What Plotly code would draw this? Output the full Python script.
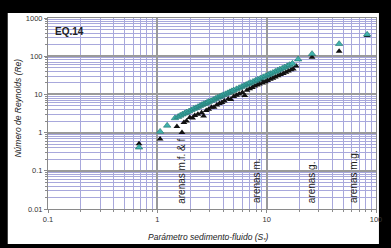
import math
import plotly.graph_objects as go

# Teal series (S*, Re)
teal_s = [0.68, 1.06, 1.23, 1.45, 1.55, 1.62, 1.70, 1.78, 1.85, 1.95, 2.05, 2.15, 2.25, 2.35,
          2.45, 2.55, 2.65, 2.75, 2.85, 2.95, 3.1, 3.25, 3.4, 3.55, 3.7, 3.85, 4.0, 4.2, 4.4,
          4.6, 4.8, 5.0, 5.3, 5.6, 5.9, 6.2, 6.5, 6.8, 7.1, 7.5, 7.9, 8.3, 8.8, 9.3, 9.8, 10.3,
          10.8, 11.4, 12.0, 12.6, 13.2, 13.9, 14.6, 15.4, 16.2, 17.2, 19.4, 26, 46, 83]
teal_re = [0.41, 1.06, 1.53, 2.4, 2.6, 2.8, 3.0, 3.2, 3.4, 3.6, 3.9, 4.2, 4.4, 4.7,
           5.0, 5.3, 5.6, 5.8, 6.1, 6.4, 6.8, 7.2, 7.7, 8.2, 8.6, 9.1, 9.6, 10.2, 10.8,
           11.5, 12.2, 12.8, 13.8, 14.8, 15.8, 16.9, 17.9, 19.0, 20, 21.5, 23, 24.5, 26.5, 28.5, 30.5, 32.5,
           34.5, 37, 39.5, 42, 45, 48, 51, 55, 59, 64, 83, 115, 210, 370]

# Black series (S*, Re)
black_s = [0.68, 1.06, 1.51, 1.68, 1.75, 1.85, 1.98, 2.1, 2.2, 2.35, 2.54, 2.65, 2.8, 2.95,
           3.13, 3.3, 3.5, 3.7, 3.9, 4.1, 4.45, 4.7, 5.0, 5.3, 5.6, 6.0, 6.3, 6.6, 7.0, 7.4,
           7.8, 8.2, 8.6, 9.0, 9.2, 9.7, 10.2, 10.8, 11.4, 12.0, 12.7, 13.4, 14.2, 15.0, 15.8,
           16.7, 17.5, 18.6, 26, 46, 83]
black_re = [0.51, 0.68, 1.44, 1.0, 1.85, 2.0, 2.5, 2.4, 2.8, 3.0, 3.3, 2.7, 3.8, 4.1,
            4.6, 4.6, 5.3, 5.8, 6.1, 6.7, 7.6, 7.4, 8.8, 9.5, 10.2, 11.2, 9.4, 12.8, 14.0, 15.2,
            16.5, 17.5, 18.8, 24, 20, 21.5, 23, 25, 26.5, 28.5, 31, 33, 35.5, 38, 41,
            44, 46, 55, 94, 135, 350]

zones = ["arenas m.f. & f", "arenas m.", "arenas g.", "arenas m.g."]
zone_x = [1.68, 8.1, 25.4, 62]

x_ticks = [0.1, 1, 10, 100]
y_ticks = [0.01, 0.1, 1, 10, 100, 1000]

fig = go.Figure()
fig.add_trace(go.Scatter(x=black_s, y=black_re, mode="markers",
                         marker=dict(symbol="triangle-up", size=6, color="#111111",
                                     line=dict(width=0)), showlegend=False))
fig.add_trace(go.Scatter(x=teal_s, y=teal_re, mode="markers",
                         marker=dict(symbol="triangle-up", size=6.5, color="#3fb3ad",
                                     line=dict(width=0.6, color="#1f6f6a")), showlegend=False))

for t, xv in zip(zones, zone_x):
    fig.add_annotation(x=math.log10(xv), y=math.log10(0.0125), text=t, textangle=-90,
                       showarrow=False, xanchor="center", yanchor="bottom",
                       font=dict(family="Liberation Sans, Arial", size=10, color="#222222"))

fig.add_annotation(x=0.015, y=0.97, xref="paper", yref="paper", text="<b>EQ.14</b>",
                   showarrow=False, xanchor="left", yanchor="top",
                   font=dict(family="Liberation Sans, Arial", size=10, color="#222222"))

fig.add_annotation(x=(17 - 48) / 334, y=(209 - 108) / 191, xref="paper", yref="paper",
                   text="<i>Número de Reynolds (Re)</i>", textangle=-90, showarrow=False,
                   xanchor="center", yanchor="middle",
                   font=dict(family="Liberation Sans, Arial", size=8.5, color="#222222"))
fig.add_annotation(x=(211 - 48) / 334, y=(209 - 237) / 191, xref="paper", yref="paper",
                   text="<i>Parámetro sedimento-fluido (S<sub>*</sub>)</i>", showarrow=False,
                   xanchor="center", yanchor="middle",
                   font=dict(family="Liberation Sans, Arial", size=8.5, color="#222222"))

# white card inside black frame
fig.add_shape(type="rect", xref="paper", yref="paper",
              x0=(7 - 48) / 334, x1=(385 - 48) / 334, y0=(209 - 244) / 191, y1=(209 - 13) / 191,
              fillcolor="white", line=dict(width=0), layer="below")

axis_common = dict(type="log", showline=True, linecolor="#8a8a8a", linewidth=1, mirror=True,
                   gridcolor="#9a9a9a", gridwidth=1.5, ticks="outside", ticklen=3,
                   tickcolor="#8a8a8a", zeroline=False,
                   tickfont=dict(family="Liberation Sans, Arial", size=7.5, color="#333333"),
                   minor=dict(dtick="D1", showgrid=True, gridcolor="#a8a8dc", gridwidth=1,
                              ticks="outside", ticklen=2, tickcolor="#8a8a8a"))

fig.update_xaxes(range=[-1, 2], tickvals=x_ticks, ticktext=[str(v) for v in x_ticks], **axis_common)
fig.update_yaxes(range=[-2, 3], tickvals=y_ticks, ticktext=[str(v) for v in y_ticks], **axis_common)

fig.update_layout(width=391, height=248, margin=dict(l=48, r=9, t=18, b=39),
                  paper_bgcolor="black", plot_bgcolor="white")

fig.write_html("out.html", config={"displayModeBar": False},
               post_script="document.body.style.margin='0';")
